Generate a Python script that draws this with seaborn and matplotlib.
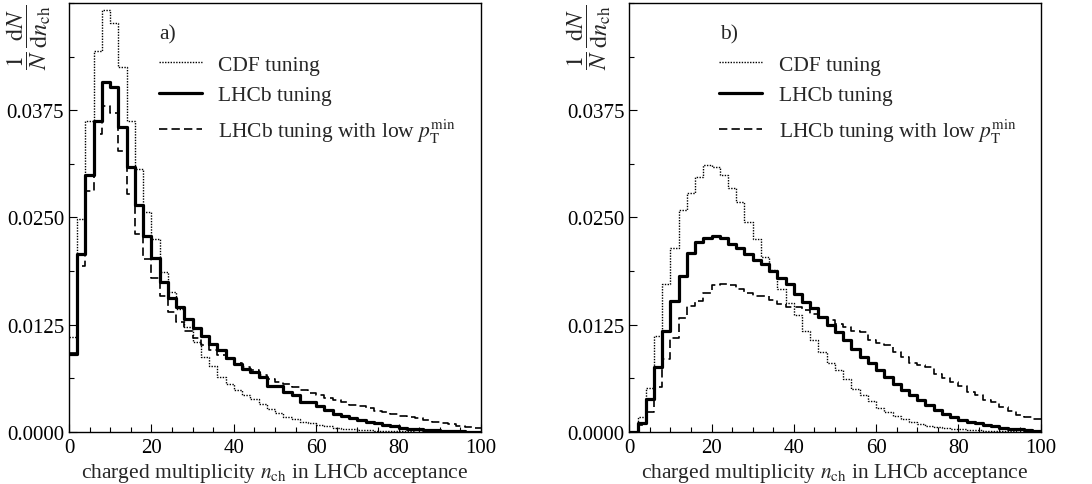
import numpy as np
import pandas as pd
import matplotlib
matplotlib.use("Agg")
import matplotlib.pyplot as plt
from matplotlib.ticker import MultipleLocator, FormatStrFormatter
import seaborn as sns

# bin centres of the charged multiplicity histograms (width 2, 0..100)
centers = np.arange(1, 100, 2)

# a) panel
a_cdf = [0.0111, 0.0248, 0.0363, 0.0444, 0.0492, 0.0477, 0.0425, 0.0363, 0.0307, 0.0256,
         0.0225, 0.0187, 0.0163, 0.0143, 0.0122, 0.0105, 0.0087, 0.0077, 0.0064, 0.0056,
         0.0049, 0.0043, 0.0038, 0.0033, 0.0027, 0.0022, 0.0018, 0.0015, 0.0012, 0.0010,
         0.0008, 0.0007, 0.0005, 0.0004, 0.0003, 0.00025, 0.0002, 0.00015, 0.00012, 0.0001,
         0.00008, 0.00006, 0.00005, 0.00004, 0.00003, 0.00002, 0.00002, 0.00001, 0.00001, 0.00001]
a_lhcb = [0.0091, 0.0208, 0.0299, 0.0362, 0.0408, 0.0402, 0.0355, 0.0309, 0.0265, 0.0228,
          0.0203, 0.0175, 0.0156, 0.0146, 0.0132, 0.0121, 0.0112, 0.0103, 0.0095, 0.0086,
          0.0079, 0.0074, 0.0070, 0.0064, 0.0054, 0.0054, 0.0047, 0.0043, 0.0035, 0.0035,
          0.0030, 0.0026, 0.0021, 0.0019, 0.0016, 0.0014, 0.0012, 0.0010, 0.0008, 0.0007,
          0.0005, 0.0004, 0.0003, 0.00025, 0.0002, 0.00015, 0.0001, 0.00008, 0.00005, 0.00003]
a_low = [0.0092, 0.0193, 0.0281, 0.0347, 0.0380, 0.0372, 0.0328, 0.0277, 0.0231, 0.0202,
         0.0179, 0.0159, 0.0140, 0.0128, 0.0118, 0.0109, 0.0101, 0.0095, 0.0090, 0.0085,
         0.0081, 0.0076, 0.0072, 0.0066, 0.0062, 0.0058, 0.0056, 0.0052, 0.0049, 0.0045,
         0.0043, 0.0040, 0.0037, 0.0035, 0.0032, 0.0030, 0.0028, 0.0025, 0.0023, 0.0021,
         0.0019, 0.0017, 0.0016, 0.0014, 0.0012, 0.0010, 0.0009, 0.0007, 0.0006, 0.0005]

# b) panel
b_cdf = [0.0000, 0.0017, 0.0051, 0.0112, 0.0173, 0.0215, 0.0259, 0.0278, 0.0297, 0.0311,
         0.0309, 0.0299, 0.0284, 0.0268, 0.0245, 0.0225, 0.0204, 0.0189, 0.0167, 0.0150,
         0.0136, 0.0118, 0.0107, 0.0093, 0.0080, 0.0072, 0.0062, 0.0050, 0.0043, 0.0036,
         0.0028, 0.0023, 0.0019, 0.0015, 0.0012, 0.0009, 0.0007, 0.0006, 0.0005, 0.0004,
         0.0003, 0.00025, 0.0002, 0.00015, 0.0001, 0.00008, 0.00006, 0.00004, 0.00003, 0.00002]
b_lhcb = [0.0000, 0.0010, 0.0039, 0.0076, 0.0118, 0.0153, 0.0182, 0.0209, 0.0222, 0.0226,
          0.0229, 0.0226, 0.0219, 0.0214, 0.0208, 0.0201, 0.0196, 0.0188, 0.0180, 0.0172,
          0.0161, 0.0152, 0.0144, 0.0134, 0.0125, 0.0116, 0.0107, 0.0097, 0.0087, 0.0080,
          0.0072, 0.0064, 0.0056, 0.0049, 0.0043, 0.0037, 0.0031, 0.0026, 0.0021, 0.0017,
          0.0014, 0.0012, 0.0010, 0.0008, 0.0007, 0.0005, 0.0004, 0.0003, 0.0002, 0.0001]
b_low = [0.0000, 0.0008, 0.0023, 0.0052, 0.0085, 0.0109, 0.0133, 0.0147, 0.0153, 0.0162,
         0.0171, 0.0172, 0.0171, 0.0167, 0.0162, 0.0158, 0.0158, 0.0154, 0.0149, 0.0146,
         0.0146, 0.0142, 0.0138, 0.0134, 0.0130, 0.0126, 0.0122, 0.0118, 0.0116, 0.0107,
         0.0104, 0.0101, 0.0093, 0.0087, 0.0081, 0.0078, 0.0076, 0.0068, 0.0063, 0.0058,
         0.0054, 0.0047, 0.0043, 0.0037, 0.0035, 0.0029, 0.0025, 0.0020, 0.0017, 0.0015]

labels = ["CDF tuning", "LHCb tuning", r"LHCb tuning with low $p_{\rm T}^{\rm min}$"]
styles = [dict(linestyle=(0, (1, 1)), linewidth=1.0),
          dict(linestyle="-", linewidth=2.3),
          dict(linestyle=(0, (5, 2.5)), linewidth=1.2)]

sns.set_style("ticks")
plt.rcParams["font.family"] = ["Liberation Serif", "DejaVu Serif"]
plt.rcParams["mathtext.fontset"] = "stix"

fig = plt.figure(figsize=(10.92, 4.85), dpi=100)
ax_a = fig.add_axes([0.0632, 0.1072, 0.3773, 0.8846])
ax_b = fig.add_axes([0.5763, 0.1072, 0.3766, 0.8846])

panels = [(ax_a, "a)", [a_cdf, a_lhcb, a_low]),
          (ax_b, "b)", [b_cdf, b_lhcb, b_low])]

for ax, tag, series in panels:
    for vals, lab, st in zip(series, labels, styles):
        df = pd.DataFrame({"n_ch": centers, "w": vals})
        sns.histplot(data=df, x="n_ch", weights="w", binwidth=2, binrange=(0, 100),
                     element="step", fill=False, color="black", label=lab, ax=ax, **st)

    ax.set_xlim(0, 100)
    ax.set_ylim(0, 0.05)
    ax.set_yticks([0, 0.0125, 0.025, 0.0375])
    ax.yaxis.set_minor_locator(MultipleLocator(0.00625))
    ax.yaxis.set_major_formatter(FormatStrFormatter("%.4f"))
    ax.xaxis.set_major_locator(MultipleLocator(20))
    ax.xaxis.set_minor_locator(MultipleLocator(5))
    ax.tick_params(which="both", direction="in", labelsize=15, colors="black")
    ax.tick_params(which="major", length=6, width=0.8)
    ax.tick_params(which="minor", length=3.5, width=0.8)
    ax.tick_params(axis="x", pad=4)
    for sp in ax.spines.values():
        sp.set_visible(True)
        sp.set_linewidth(1.0)
        sp.set_color("black")

    ax.set_xlabel(r"charged multiplicity $n_{\rm ch}$ in LHCb acceptance", fontsize=15.5,
                  labelpad=3)
    ax.set_ylabel(r"$\dfrac{1}{N}\,\dfrac{\mathrm{d}N}{\mathrm{d}n_{\rm ch}}$", fontsize=17.5,
                  loc="top")
    ax.yaxis.set_label_coords(-0.04, 1.0)

    ax.text(0.22, 0.928, tag, transform=ax.transAxes, fontsize=15.5, va="center", ha="left")
    ax.legend(loc="upper left", bbox_to_anchor=(0.198, 0.9), frameon=False, fontsize=15.5,
              handlelength=2.0, handletextpad=0.75, labelspacing=0.5, borderaxespad=0)

fig.savefig("out.png", dpi=100)
